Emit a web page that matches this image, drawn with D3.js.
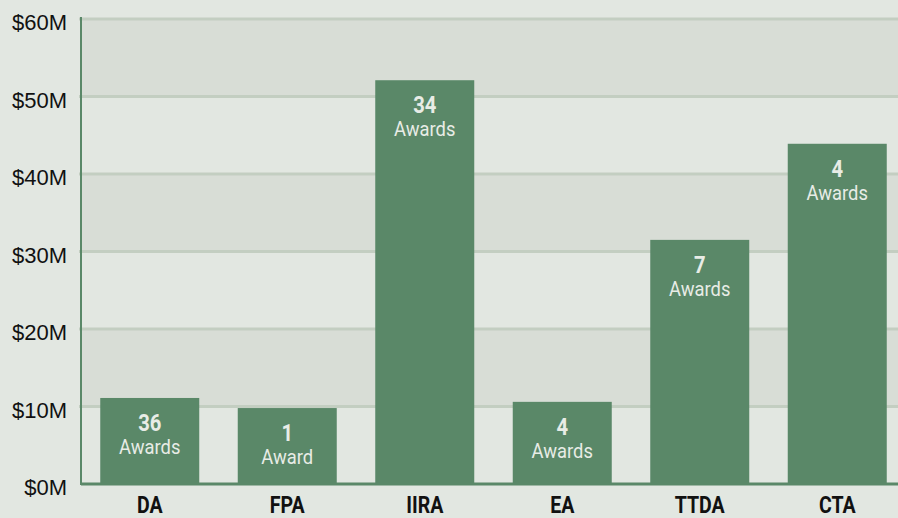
<!DOCTYPE html>
<html>
<head>
<meta charset="utf-8">
<script src="https://cdn.jsdelivr.net/npm/d3@7"></script>
<style>
  body { margin: 0; background: #e2e7e1; }
  svg { display: block; }
  .ytick { font-family: "Liberation Sans", Arial, sans-serif; font-size: 22px; fill: #111; }
  .xlab { font-family: "Roboto", sans-serif; font-weight: bold; font-size: 23px; fill: #111; }
  .num { font-family: "Roboto", sans-serif; font-weight: bold; font-size: 23px; fill: #e8ece6; }
  .unit { font-family: "Roboto", sans-serif; font-size: 20px; fill: #e8ece6; }
</style>
</head>
<body>
<div id="chart"></div>
<script>
// DATA
const programs = ["DA", "FPA", "IIRA", "EA", "TTDA", "CTA"];
const funding = [11.1, 9.8, 52.1, 10.6, 31.5, 43.9];   // $M
const awards = [36, 1, 34, 4, 7, 4];
const yTicks = [0, 10, 20, 30, 40, 50, 60];

// SETUP
const W = 898, H = 518;
const plotLeft = 81, plotRight = 906, plotTop = 19, plotBottom = 484;

const svg = d3.select("#chart")
  .append("svg")
  .attr("width", W)
  .attr("height", H);

svg.append("rect").attr("width", W).attr("height", H).attr("fill", "#e2e7e1");

// SCALES
const x = d3.scaleBand()
  .domain(programs)
  .range([plotLeft, plotRight])
  .paddingInner(0.28)
  .paddingOuter(0.14);

const y = d3.scaleLinear()
  .domain([0, 60])
  .range([plotBottom, plotTop]);

const cx = d => x(d) + x.bandwidth() / 2;

// alternating bands (darker between 10-20, 30-40, 50-60)
const bands = yTicks.slice(0, -1).filter((d, i) => i % 2 === 1);
svg.selectAll(".band")
  .data(bands)
  .join("rect")
  .attr("x", plotLeft)
  .attr("width", W - plotLeft)
  .attr("y", d => y(d + 10))
  .attr("height", d => y(d) - y(d + 10))
  .attr("fill", "#d8ddd6");

// gridlines
svg.selectAll(".grid")
  .data(yTicks.slice(1))
  .join("line")
  .attr("x1", plotLeft - 2)
  .attr("x2", W)
  .attr("y1", d => y(d))
  .attr("y2", d => y(d))
  .attr("stroke", "#c3cec1")
  .attr("stroke-width", 3);

// y tick labels
svg.selectAll(".ytick")
  .data(yTicks)
  .join("text")
  .attr("class", "ytick")
  .attr("x", 67)
  .attr("y", d => y(d) + 11)
  .attr("text-anchor", "end")
  .text(d => `$${d}M`);

// BARS
svg.selectAll(".bar")
  .data(programs)
  .join("rect")
  .attr("x", d => x(d))
  .attr("width", x.bandwidth())
  .attr("y", (d, i) => y(funding[i]))
  .attr("height", (d, i) => plotBottom - y(funding[i]))
  .attr("fill", "#5a8868");

// bar labels (narrowed to look condensed)
svg.selectAll(".num")
  .data(programs)
  .join("text")
  .attr("class", "num")
  .attr("transform", (d, i) => `translate(${cx(d)},${y(funding[i]) + 33}) scale(0.88,1)`)
  .attr("text-anchor", "middle")
  .text((d, i) => awards[i]);

svg.selectAll(".unit")
  .data(programs)
  .join("text")
  .attr("class", "unit")
  .attr("transform", (d, i) => `translate(${cx(d)},${y(funding[i]) + 56}) scale(0.92,1)`)
  .attr("text-anchor", "middle")
  .text((d, i) => awards[i] === 1 ? "Award" : "Awards");

// AXES lines
svg.append("line")
  .attr("x1", plotLeft).attr("x2", plotLeft)
  .attr("y1", plotTop - 2).attr("y2", plotBottom + 1)
  .attr("stroke", "#5a8868").attr("stroke-width", 2);

svg.append("line")
  .attr("x1", plotLeft).attr("x2", W)
  .attr("y1", plotBottom).attr("y2", plotBottom)
  .attr("stroke", "#5a8868").attr("stroke-width", 3);

// x labels
svg.selectAll(".xlab")
  .data(programs)
  .join("text")
  .attr("class", "xlab")
  .attr("transform", d => `translate(${cx(d)},513) scale(0.85,1)`)
  .attr("text-anchor", "middle")
  .text(d => d);
</script>
</body>
</html>
